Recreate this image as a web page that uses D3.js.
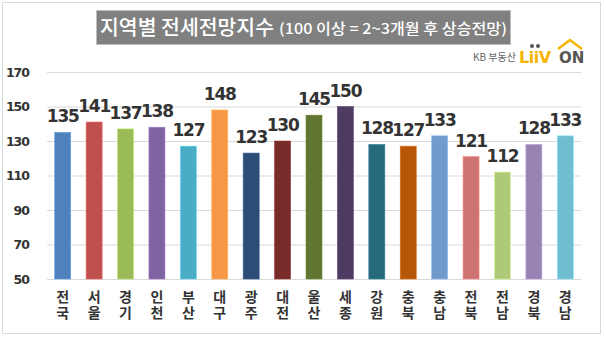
<!DOCTYPE html>
<html><head><meta charset="utf-8">
<script src="https://cdn.jsdelivr.net/npm/d3@7"></script>
<style>body{margin:0;background:#fff;}svg{display:block;}</style>
</head><body>
<script>
const categories = ["전국","서울","경기","인천","부산","대구","광주","대전","울산","세종","강원","충북","충남","전북","전남","경북","경남"];
const values = [135,141,137,138,127,148,123,130,145,150,128,127,133,121,112,128,133];
const colors = ["#4F81BD","#C0504D","#9BBB59","#8064A2","#4BACC6","#F79646","#2C4D75","#772C2A","#5F7530","#4D3B62","#276A7C","#B65708","#729ACA","#CD7371","#AFC97A","#9983B5","#6FBDD1"];
const yTicks = [50,70,90,110,130,150,170];
const title = "지역별 전세전망지수";
const subtitle = "(100 이상 = 2~3개월 후 상승전망)";

const W = 606, H = 338;
const svg = d3.select("body").append("svg").attr("width", W).attr("height", H);
const kr = "'Noto Sans CJK KR','Noto Sans',sans-serif";

svg.append("rect").attr("x",2.5).attr("y",2.5).attr("width",598).attr("height",331)
  .attr("fill","#fff").attr("stroke","#d9d9d9");

// title box
svg.append("rect").attr("x",96.5).attr("y",10.5).attr("width",414).attr("height",34).attr("fill","#808080").attr("stroke","#bfbfbf");
svg.append("text").attr("x",100).attr("y",35).attr("fill","#fff").attr("font-family",kr)
  .attr("font-size",20).attr("font-weight",500).attr("textLength",174).attr("lengthAdjust","spacingAndGlyphs").text(title);
svg.append("text").attr("x",279).attr("y",34).attr("fill","#fff").attr("font-family",kr)
  .attr("font-size",14.5).attr("font-weight",500).attr("textLength",228).attr("lengthAdjust","spacingAndGlyphs").text(subtitle);

// logo
svg.append("text").attr("x",473).attr("y",61).attr("font-family",kr).attr("font-size",10).attr("fill","#666").text("KB 부동산");
svg.append("text").attr("x",519).attr("y",63).attr("font-family","'DejaVu Sans',sans-serif").attr("font-weight","bold").attr("font-size",16).attr("fill","#F5B400").attr("letter-spacing",-0.5).text("LiiV");
svg.append("text").attr("x",559).attr("y",63).attr("font-family","'DejaVu Sans',sans-serif").attr("font-weight","bold").attr("font-size",15).attr("fill","#555").text("ON");
svg.append("path").attr("d","M558,49 L570,40 L582,49").attr("fill","none").attr("stroke","#F5B400").attr("stroke-width",2.5);
svg.append("circle").attr("cx",532).attr("cy",46).attr("r",2).attr("fill","#555");
svg.append("circle").attr("cx",538).attr("cy",46).attr("r",2).attr("fill","#555");

const x = d3.scaleBand().domain(categories).range([47,581]).paddingInner(0.49).paddingOuter(0.245);
const y = d3.scaleLinear().domain([50,170]).range([279,72]);

// grid
svg.append("g").selectAll("line").data(yTicks).join("line")
  .attr("x1",47).attr("x2",581).attr("y1",d=>y(d)+0.5).attr("y2",d=>y(d)+0.5)
  .attr("stroke","#d9d9d9").attr("stroke-width",1);

// y axis labels
const yAxis = d3.axisLeft(y).tickValues(yTicks).tickSize(0).tickPadding(0);
const ga = svg.append("g").attr("transform","translate(29,0)").call(yAxis);
ga.select(".domain").remove();
ga.selectAll("text").attr("font-family","'DejaVu Sans',sans-serif").attr("font-weight","bold")
  .attr("font-size",12.5).attr("fill","#333").attr("letter-spacing",-1);

// bars
svg.append("g").selectAll("rect").data(categories).join("rect")
  .attr("x",d=>x(d)).attr("width",x.bandwidth())
  .attr("y",(d,i)=>y(values[i])).attr("height",(d,i)=>y(50)-y(values[i]))
  .attr("fill",(d,i)=>colors[i]).attr("stroke",(d,i)=>d3.color(colors[i]).brighter(0.6)).attr("stroke-width",0.6);

// value labels
svg.append("g").selectAll("text").data(categories).join("text")
  .attr("x",d=>x(d)+x.bandwidth()/2).attr("y",(d,i)=>y(values[i])-10)
  .attr("text-anchor","middle").attr("font-family","'DejaVu Sans',sans-serif").attr("font-weight","bold")
  .attr("font-size",17).attr("letter-spacing",-1.2).attr("fill","#333").text((d,i)=>values[i]);

// x labels (vertical, upright)
svg.append("g").selectAll("text").data(categories).join("text")
  .attr("x",d=>x(d)+x.bandwidth()/2).attr("y",290)
  .style("writing-mode","vertical-rl").style("text-orientation","upright")
  .attr("letter-spacing",2)
  .attr("font-family",kr).attr("font-weight","bold")
  .attr("font-size",14).attr("fill","#333").text(d=>d);
</script>
</body></html>
